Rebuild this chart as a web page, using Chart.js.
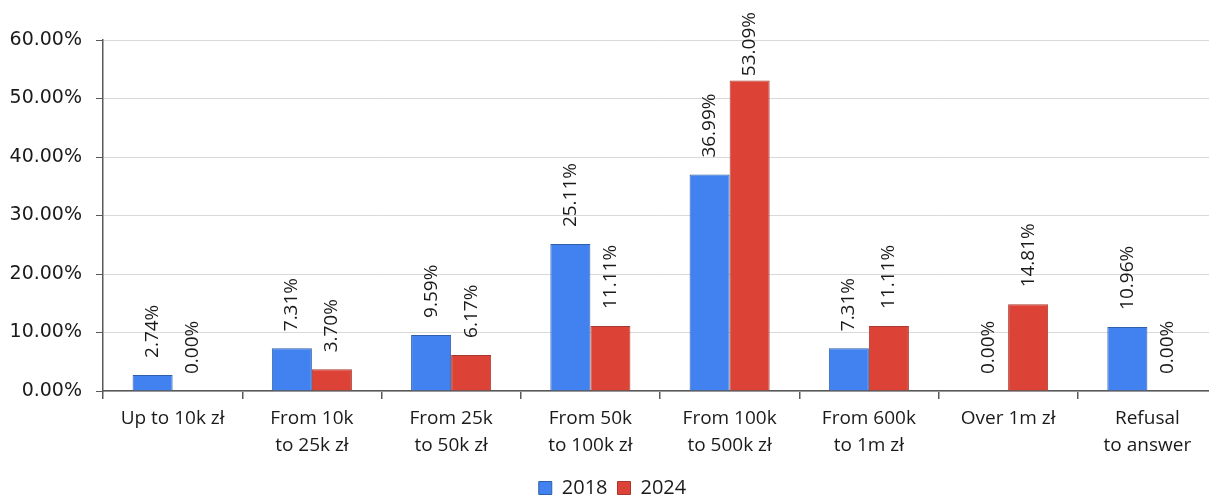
<!DOCTYPE html>
<html>
<head>
<meta charset="utf-8">
<script src="https://cdn.jsdelivr.net/npm/chart.js@4/dist/chart.umd.min.js"></script>
<style>
  html, body { margin: 0; padding: 0; background: #ffffff; overflow: hidden; }
  #wrap { width: 1217px; height: 496px; position: relative; }
</style>
</head>
<body>
<div id="wrap"><canvas id="c"></canvas></div>
<script>
// Income brackets (annual), share of respondents per survey year
const categories = [
  ['Up to 10k zł'],
  ['From 10k', 'to 25k zł'],
  ['From 25k', 'to 50k zł'],
  ['From 50k', 'to 100k zł'],
  ['From 100k', 'to 500k zł'],
  ['From 600k', 'to 1m zł'],
  ['Over 1m zł'],
  ['Refusal', 'to answer']
];
const seriesNames = ['2018', '2024'];
const values2018 = [2.74, 7.31, 9.59, 25.11, 36.99, 7.31, 0.00, 10.96];
const values2024 = [0.00, 3.70, 6.17, 11.11, 53.09, 11.11, 14.81, 0.00];
const yTicks = [0, 10, 20, 30, 40, 50, 60];

const pct = v => v.toFixed(2) + '%';

// Vertical value labels above each bar
const valueLabels = {
  id: 'valueLabels',
  afterDatasetsDraw(chart) {
    const ctx = chart.ctx;
    ctx.save();
    ctx.font = '19px "Open Sans"';
    ctx.fillStyle = '#1a1a1a';
    ctx.textAlign = 'left';
    ctx.textBaseline = 'middle';
    chart.data.datasets.forEach((ds, i) => {
      const meta = chart.getDatasetMeta(i);
      meta.data.forEach((bar, j) => {
        const text = pct(ds.data[j]);
        const w = ctx.measureText(text).width;
        let start = bar.y - 17;
        if (start - w < 12) start = 12 + w;   // keep inside the canvas top
        ctx.save();
        ctx.translate(bar.x, start);
        ctx.rotate(-Math.PI / 2);
        ctx.fillText(text, 0, 0);
        ctx.restore();
      });
    });
    ctx.restore();
  }
};

new Chart(document.getElementById('c'), {
  type: 'bar',
  data: {
    labels: categories,
    datasets: [
      {
        label: seriesNames[0],
        data: values2018,
        backgroundColor: '#4182f0',
        borderColor: '#2f5fa8',
        borderWidth: 1
      },
      {
        label: seriesNames[1],
        data: values2024,
        backgroundColor: '#dc4336',
        borderColor: '#a8392f',
        borderWidth: 1
      }
    ]
  },
  options: {
    responsive: true,
    maintainAspectRatio: false,
    animation: false,
    events: [],
    layout: { padding: { top: 40, left: 8, right: 0, bottom: -12 } },
    datasets: {
      bar: { categoryPercentage: 0.575, barPercentage: 1.0 }
    },
    scales: {
      x: {
        offset: true,
        grid: {
          offset: true,
          drawOnChartArea: false,
          drawTicks: true,
          tickLength: 8,
          tickColor: '#595959',
          lineWidth: 1.5
        },
        border: { display: true, color: '#595959', width: 1.5 },
        ticks: {
          color: '#1a1a1a',
          font: { family: '"Open Sans"', size: 19, lineHeight: 1.42 },
          padding: 6,
          maxRotation: 0,
          autoSkip: false
        },
        afterFit(scale) { scale.height = 77; }
      },
      y: {
        min: yTicks[0],
        max: yTicks[yTicks.length - 1],
        afterBuildTicks(scale) { scale.ticks = yTicks.map(v => ({ value: v })); },
        grid: {
          color: '#d9d9d9',
          lineWidth: 1,
          drawTicks: true,
          tickLength: 7,
          tickColor: '#595959'
        },
        border: { display: true, color: '#595959', width: 1.5 },
        ticks: {
          color: '#1a1a1a',
          font: { family: '"DejaVu Sans"', size: 19 },
          padding: 14,
          callback: v => pct(v)
        },
        afterFit(scale) { scale.width = 95; }
      }
    },
    plugins: {
      legend: {
        position: 'bottom',
        labels: {
          color: '#1a1a1a',
          font: { family: '"Open Sans"', size: 20 },
          boxWidth: 13,
          boxHeight: 13,
          padding: 10,
          useBorderRadius: false
        }
      },
      tooltip: { enabled: false }
    }
  },
  plugins: [valueLabels]
});
</script>
</body>
</html>
